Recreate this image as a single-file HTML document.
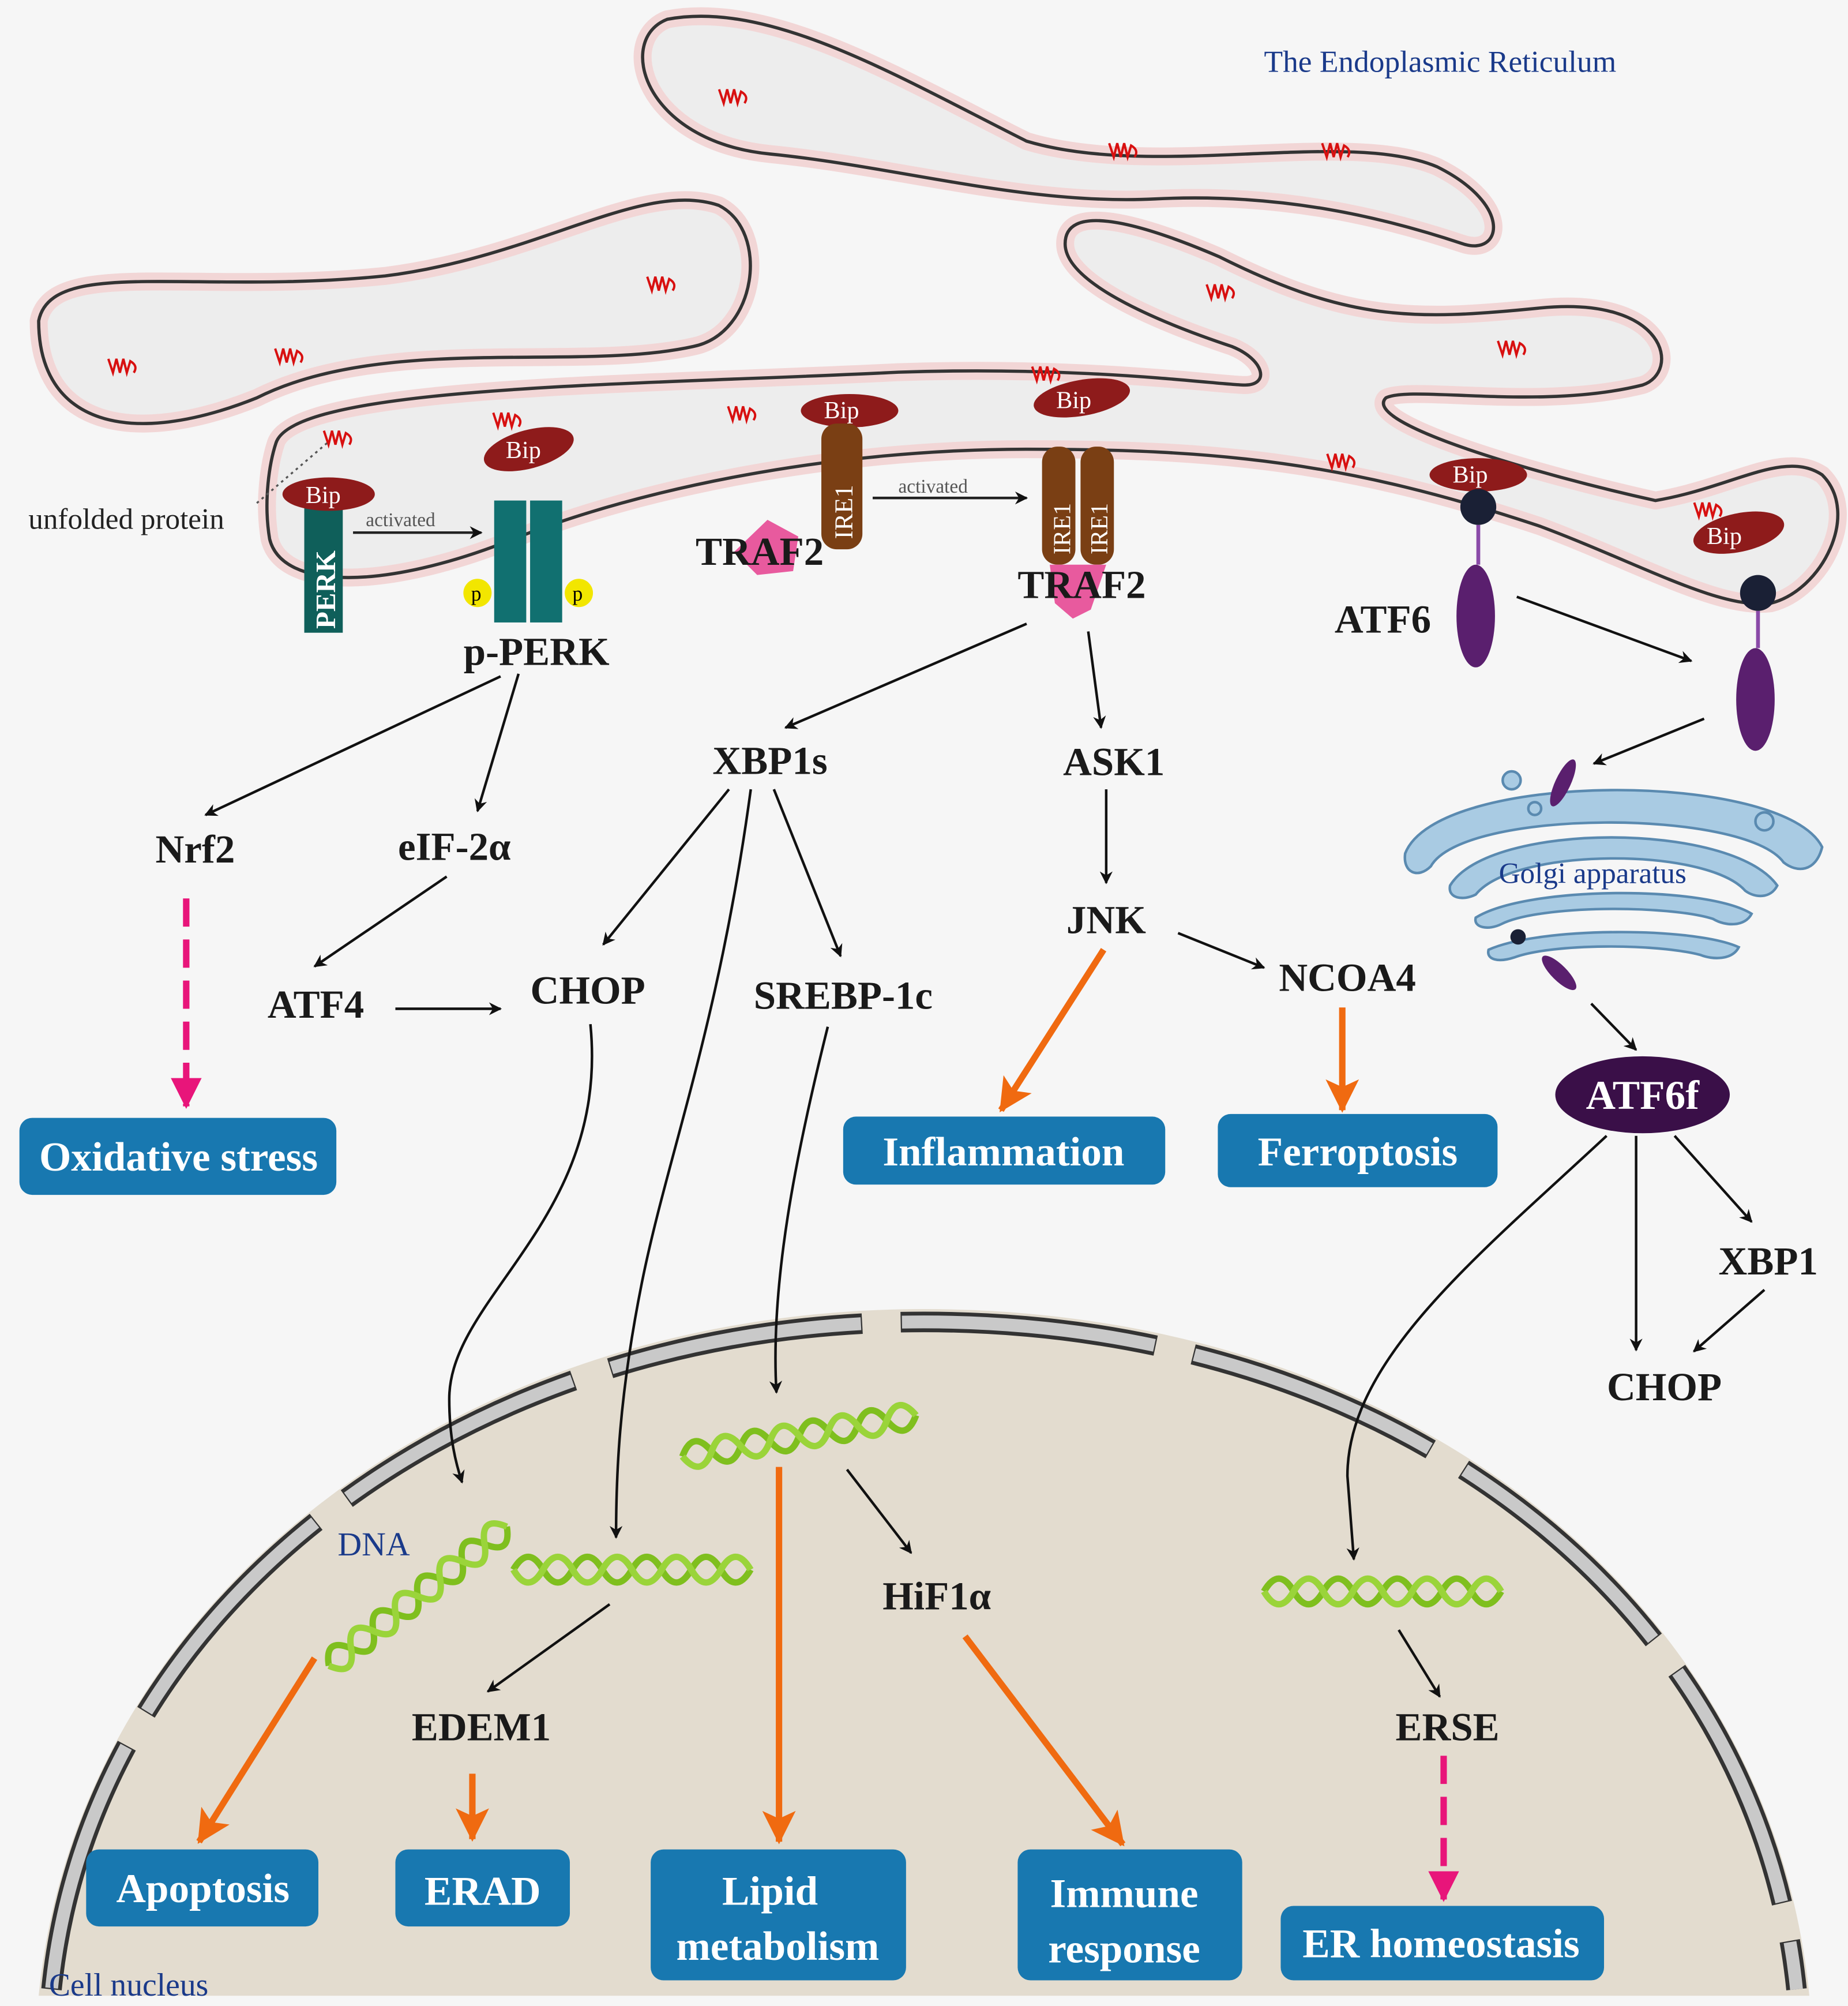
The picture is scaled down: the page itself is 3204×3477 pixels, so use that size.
<!DOCTYPE html>
<html><head><meta charset="utf-8"><style>
html,body{margin:0;padding:0;background:#f6f6f6}
svg{display:block}
text{font-family:"Liberation Serif",serif}
.b{font-weight:bold;fill:#1a1a1a;font-size:31px}
.w{font-weight:bold;fill:#fff;font-size:32px}
</style></head><body>
<svg width="3204" height="3477" viewBox="0 0 1440 1563" xmlns="http://www.w3.org/2000/svg">
<defs>
<marker id="ab" markerWidth="10" markerHeight="10" refX="9" refY="5" orient="auto" markerUnits="userSpaceOnUse"><path d="M0,0 L10,5 L0,10 L3,5 Z" fill="#111"/></marker>
<marker id="ao" markerWidth="26" markerHeight="26" refX="24" refY="13" orient="auto" markerUnits="userSpaceOnUse"><path d="M0,0 L26,13 L0,26 L6,13 Z" fill="#f06a10"/></marker>
<marker id="ap" markerWidth="24" markerHeight="24" refX="22" refY="12" orient="auto" markerUnits="userSpaceOnUse"><path d="M0,0 L24,12 L0,24 Z" fill="#e8157a"/></marker>
<symbol id="sq" viewBox="0 0 30 20"><path d="M2,4 L6,16 L9,4 L12,16 L15,4 L18,16 L21,6 Q28,10 24,16" fill="none" stroke="#d81010" stroke-width="2"/></symbol>
<g id="hx"><path d="M0,10 Q11,-10 22,10 T44,10 T66,10 T88,10 T110,10 T132,10 T154,10 T176,10" fill="none" stroke="#7fbf1e" stroke-width="5"/><path d="M0,10 Q11,30 22,10 T44,10 T66,10 T88,10 T110,10 T132,10 T154,10 T176,10" fill="none" stroke="#9ad43a" stroke-width="5"/></g>
</defs>
<rect width="1440" height="1563" fill="#f6f6f6"/>
<!-- ER -->
<g fill="#ededed" stroke-linejoin="round">
<path d="M520,15 C600,0 700,60 800,110 C900,140 1050,100 1120,130 C1180,160 1170,200 1140,190 C1080,170 1000,150 900,155 C800,160 700,130 600,120 C500,110 480,30 520,15 Z" stroke="#f2d6d6" stroke-width="14"/>
<path d="M30,250 C40,200 150,230 300,215 C420,200 500,140 560,160 C600,180 590,260 540,270 C450,290 300,260 200,310 C100,350 30,330 30,250 Z" stroke="#f2d6d6" stroke-width="14"/>
<path d="M215,345 C230,300 500,300 700,290 C850,285 950,300 970,300 C990,300 985,280 960,270 C900,250 830,220 830,190 C830,160 880,170 950,200 C1050,250 1100,250 1200,240 C1300,230 1310,290 1280,300 C1200,320 1100,300 1080,310 C1060,330 1200,370 1290,390 C1350,380 1390,350 1420,370 C1450,400 1420,460 1380,470 C1340,475 1280,440 1200,410 C1050,360 950,350 800,350 C650,350 500,380 400,420 C300,460 220,460 210,420 C205,390 210,360 215,345 Z" stroke="#f2d6d6" stroke-width="14"/>
</g>
<g fill="none" stroke="#333" stroke-width="2.5">
<path d="M520,15 C600,0 700,60 800,110 C900,140 1050,100 1120,130 C1180,160 1170,200 1140,190 C1080,170 1000,150 900,155 C800,160 700,130 600,120 C500,110 480,30 520,15 Z"/>
<path d="M30,250 C40,200 150,230 300,215 C420,200 500,140 560,160 C600,180 590,260 540,270 C450,290 300,260 200,310 C100,350 30,330 30,250 Z"/>
<path d="M215,345 C230,300 500,300 700,290 C850,285 950,300 970,300 C990,300 985,280 960,270 C900,250 830,220 830,190 C830,160 880,170 950,200 C1050,250 1100,250 1200,240 C1300,230 1310,290 1280,300 C1200,320 1100,300 1080,310 C1060,330 1200,370 1290,390 C1350,380 1390,350 1420,370 C1450,400 1420,460 1380,470 C1340,475 1280,440 1200,410 C1050,360 950,350 800,350 C650,350 500,380 400,420 C300,460 220,460 210,420 C205,390 210,360 215,345 Z"/>
</g>
<g>
<use href="#sq" x="558" y="66" width="28" height="18"/><use href="#sq" x="862" y="108" width="28" height="18"/><use href="#sq" x="1028" y="108" width="28" height="18"/><use href="#sq" x="502" y="212" width="28" height="18"/><use href="#sq" x="82" y="276" width="28" height="18"/><use href="#sq" x="212" y="268" width="28" height="18"/><use href="#sq" x="250" y="332" width="28" height="18"/><use href="#sq" x="382" y="318" width="28" height="18"/><use href="#sq" x="565" y="313" width="28" height="18"/><use href="#sq" x="802" y="282" width="28" height="18"/><use href="#sq" x="938" y="218" width="28" height="18"/><use href="#sq" x="1165" y="262" width="28" height="18"/><use href="#sq" x="1032" y="350" width="28" height="18"/><use href="#sq" x="1318" y="388" width="28" height="18"/>
</g>
<text x="985" y="56" font-size="24" fill="#1a3a8a">The Endoplasmic Reticulum</text>
<text x="22" y="412" font-size="23" fill="#222">unfolded protein</text>
<path d="M200,392 L255,345" stroke="#555" stroke-width="1.5" stroke-dasharray="2,3"/>
<!-- PERK -->
<rect x="237" y="395" width="30" height="98" fill="#0f5f5a"/>
<text transform="translate(261,490) rotate(-90)" font-size="22" fill="#fff" font-weight="bold">PERK</text>
<rect x="385" y="390" width="25" height="95" fill="#117070"/><rect x="413" y="390" width="25" height="95" fill="#117070"/>
<circle cx="372" cy="462" r="11" fill="#f2e600"/><circle cx="451" cy="462" r="11" fill="#f2e600"/>
<text x="367" y="468" font-size="16">p</text><text x="446" y="468" font-size="16">p</text>
<g fill="#8e1b1b"><ellipse cx="256" cy="385" rx="36" ry="13"/><ellipse cx="412" cy="350" rx="36" ry="15" transform="rotate(-15 412 350)"/><ellipse cx="662" cy="320" rx="38" ry="13"/><ellipse cx="843" cy="310" rx="38" ry="14" transform="rotate(-10 843 310)"/><ellipse cx="1152" cy="370" rx="38" ry="13"/><ellipse cx="1355" cy="415" rx="36" ry="15" transform="rotate(-12 1355 415)"/></g>
<g fill="#fff" font-size="19"><text x="238" y="392">Bip</text><text x="394" y="357">Bip</text><text x="642" y="326">Bip</text><text x="823" y="318">Bip</text><text x="1132" y="376">Bip</text><text x="1330" y="424">Bip</text></g>
<path d="M275,415 L375,415" stroke="#222" stroke-width="2" marker-end="url(#ab)"/>
<text x="285" y="410" font-size="15" fill="#555">activated</text>
<!-- IRE1 -->
<rect x="640" y="330" width="32" height="98" rx="12" fill="#7a3f14"/>
<text transform="translate(664,420) rotate(-90)" font-size="20" fill="#fff">IRE1</text>
<rect x="812" y="348" width="26" height="92" rx="12" fill="#7a3f14"/><rect x="842" y="348" width="26" height="92" rx="12" fill="#7a3f14"/>
<text transform="translate(834,432) rotate(-90)" font-size="19" fill="#fff">IRE1</text><text transform="translate(863,432) rotate(-90)" font-size="19" fill="#fff">IRE1</text>
<path d="M680,388 L800,388" stroke="#222" stroke-width="2" marker-end="url(#ab)"/>
<text x="700" y="384" font-size="15" fill="#555">activated</text>
<path d="M598,405 L622,418 L618,445 L590,448 L572,430 Z" fill="#e85a9e"/>
<path d="M818,440 L862,440 L850,475 L836,482 L822,470 Z" fill="#e85a9e"/>
<text x="542" y="440" class="b" font-size="26">TRAF2</text>
<text x="793" y="466" class="b" font-size="26">TRAF2</text>
<!-- ATF6 -->
<circle cx="1152" cy="395" r="14" fill="#1a2035"/><line x1="1152" y1="409" x2="1152" y2="440" stroke="#8a4aa8" stroke-width="3"/>
<ellipse cx="1150" cy="480" rx="15" ry="40" fill="#5a1f6e"/>
<circle cx="1370" cy="462" r="14" fill="#1a2035"/><line x1="1370" y1="476" x2="1370" y2="505" stroke="#8a4aa8" stroke-width="3"/>
<ellipse cx="1368" cy="545" rx="15" ry="40" fill="#5a1f6e"/>
<text x="1040" y="493" class="b" font-size="32">ATF6</text>
<!-- Golgi -->
<g stroke="#5a8ab0" stroke-width="2" fill="#a9cbe3">
<path d="M1095,665 C1120,600 1390,600 1420,660 C1415,680 1400,680 1390,672 C1360,630 1140,630 1115,675 C1105,685 1093,680 1095,665 Z"/>
<path d="M1130,690 C1160,640 1350,640 1385,690 C1380,700 1368,700 1360,694 C1330,660 1180,660 1150,697 C1140,702 1128,700 1130,690 Z"/>
<path d="M1150,715 C1190,690 1330,690 1365,712 C1360,722 1345,722 1335,716 C1300,705 1200,705 1170,720 C1160,725 1148,723 1150,715 Z"/>
<path d="M1160,740 C1200,722 1320,722 1355,738 C1350,748 1335,748 1325,744 C1290,735 1210,735 1180,746 C1168,750 1158,748 1160,740 Z"/>
<circle cx="1178" cy="608" r="7"/><circle cx="1375" cy="640" r="7"/><circle cx="1196" cy="630" r="5"/>
</g>
<ellipse cx="1218" cy="610" rx="6" ry="20" fill="#5a1f6e" transform="rotate(25 1218 610)"/>
<circle cx="1183" cy="730" r="6" fill="#1a2035"/>
<ellipse cx="1215" cy="758" rx="6" ry="18" fill="#5a1f6e" transform="rotate(-45 1215 758)"/>
<text x="1168" y="688" font-size="23" fill="#1a3a8a">Golgi apparatus</text>
<ellipse cx="1280" cy="853" rx="68" ry="30" fill="#3a0f48"/>
<text x="1280" y="864" class="w" text-anchor="middle" font-size="30">ATF6f</text>
<!-- Nucleus -->
<path d="M30,1555 C60,1250 350,1020 720,1020 C1100,1020 1380,1250 1410,1555 Z" fill="#e3dccf"/>
<path d="M40,1550 C70,1255 355,1030 720,1030 C1095,1030 1370,1255 1400,1550" fill="none" stroke="#333" stroke-width="16" stroke-dasharray="200,30" stroke-linecap="butt"/>
<path d="M40,1550 C70,1255 355,1030 720,1030 C1095,1030 1370,1255 1400,1550" fill="none" stroke="#c9c9c9" stroke-width="10" stroke-dasharray="198,32" stroke-dashoffset="-1"/>
<use href="#hx" transform="translate(250,1290) rotate(-38)"/>
<use href="#hx" transform="translate(400,1213) scale(1.05,1)"/>
<use href="#hx" transform="translate(530,1125) rotate(-10) scale(1.05,1)"/>
<use href="#hx" transform="translate(985,1230) scale(1.05,1)"/>
<text x="263" y="1212" font-size="26" fill="#1a3a8a">DNA</text>
<text x="38" y="1555" font-size="25" fill="#1a3a8a">Cell nucleus</text>
<!-- labels -->
<g class="b" text-anchor="middle">
<text x="418" y="518">p-PERK</text><text x="152" y="672">Nrf2</text><text x="354" y="670">eIF-2α</text><text x="246" y="793">ATF4</text><text x="458" y="782">CHOP</text><text x="600" y="603">XBP1s</text><text x="868" y="604">ASK1</text><text x="862" y="727">JNK</text><text x="1050" y="772">NCOA4</text><text x="657" y="786">SREBP-1c</text><text x="1378" y="993">XBP1</text><text x="1297" y="1091">CHOP</text><text x="730" y="1254">HiF1α</text><text x="375" y="1356">EDEM1</text><text x="1128" y="1356">ERSE</text>
</g>
<!-- boxes -->
<g fill="#1878b0">
<rect x="15" y="871" width="247" height="60" rx="10"/><rect x="657" y="870" width="251" height="53" rx="10"/><rect x="949" y="868" width="218" height="57" rx="10"/>
<rect x="67" y="1441" width="181" height="60" rx="10"/><rect x="308" y="1441" width="136" height="60" rx="10"/><rect x="507" y="1441" width="199" height="102" rx="10"/><rect x="793" y="1441" width="175" height="102" rx="10"/><rect x="998" y="1485" width="252" height="58" rx="10"/>
</g>
<g class="w" text-anchor="middle">
<text x="139" y="912">Oxidative stress</text><text x="782" y="908">Inflammation</text><text x="1058" y="908">Ferroptosis</text>
<text x="158" y="1482">Apoptosis</text><text x="376" y="1484">ERAD</text><text x="600" y="1484">Lipid</text><text x="606" y="1527">metabolism</text><text x="876" y="1486">Immune</text><text x="876" y="1529">response</text><text x="1123" y="1525">ER homeostasis</text>
</g>
<!-- black arrows -->
<g stroke="#111" stroke-width="2" fill="none" marker-end="url(#ab)">
<path d="M390,527 L160,635"/><path d="M404,525 L372,632"/><path d="M348,683 L245,753"/><path d="M308,786 L390,786"/>
<path d="M800,486 L612,567"/><path d="M848,492 L858,567"/><path d="M862,615 L862,688"/><path d="M918,727 L985,754"/>
<path d="M568,615 L470,736"/><path d="M603,615 L655,745"/>
<path d="M585,615 C560,800 520,900 500,1000 C482,1090 480,1150 480,1198"/>
<path d="M460,798 C475,950 350,1010 350,1090 C350,1120 355,1140 360,1155"/>
<path d="M645,800 C620,900 600,1000 605,1085"/>
<path d="M1182,465 L1318,515"/><path d="M1328,560 L1242,595"/><path d="M1240,782 L1275,818"/>
<path d="M1275,885 L1275,1052"/><path d="M1305,885 L1365,952"/><path d="M1375,1005 L1320,1053"/>
<path d="M1252,885 C1150,980 1050,1060 1050,1150 L1055,1215"/>
<path d="M475,1250 L380,1318"/><path d="M660,1145 L710,1210"/><path d="M1090,1270 L1122,1322"/>
</g>
<g stroke="#f06a10" stroke-width="5" fill="none" marker-end="url(#ao)">
<path d="M860,740 L780,865"/><path d="M1046,785 L1046,865"/><path d="M245,1292 L155,1435"/><path d="M368,1382 L368,1433"/><path d="M607,1143 L607,1435"/><path d="M752,1275 L875,1437"/>
</g>
<g stroke="#e8157a" stroke-width="5" fill="none" stroke-dasharray="22,10" marker-end="url(#ap)">
<path d="M145,700 L145,862"/><path d="M1125,1368 L1125,1480"/>
</g>
</svg>
</body></html>
